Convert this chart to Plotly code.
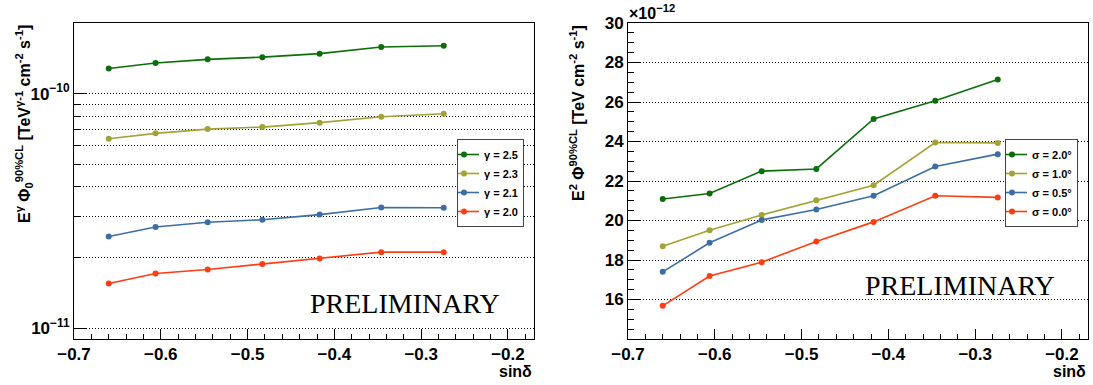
import plotly.graph_objects as go

# ---------------- data ----------------
sin_dec = [-0.660, -0.606, -0.546, -0.483, -0.417, -0.346, -0.274]

gamma_labels = ["γ = 2.5", "γ = 2.3", "γ = 2.1", "γ = 2.0"]
flux_g25 = [1.28e-10, 1.35e-10, 1.40e-10, 1.43e-10, 1.48e-10, 1.58e-10, 1.60e-10]
flux_g23 = [6.42e-11, 6.77e-11, 7.06e-11, 7.20e-11, 7.52e-11, 7.97e-11, 8.21e-11]
flux_g21 = [2.46e-11, 2.70e-11, 2.83e-11, 2.90e-11, 3.05e-11, 3.27e-11, 3.26e-11]
flux_g20 = [1.55e-11, 1.71e-11, 1.78e-11, 1.88e-11, 1.98e-11, 2.11e-11, 2.11e-11]

sigma_labels = ["σ = 2.0°", "σ = 1.0°", "σ = 0.5°", "σ = 0.0°"]
# E^2 flux in units of 1e-12 TeV cm^-2 s^-1
e2flux_s20 = [21.09, 21.37, 22.50, 22.61, 25.14, 26.06, 27.14]
e2flux_s10 = [18.70, 19.51, 20.28, 21.03, 21.79, 23.95, 23.93]
e2flux_s05 = [17.40, 18.87, 20.03, 20.56, 21.25, 22.73, 23.36]
e2flux_s00 = [15.68, 17.19, 17.89, 18.94, 19.93, 21.25, 21.17]

left_major_vals = [1e-11, 1e-10]
left_major_text = ["10<sup>−11</sup>", "10<sup>−10</sup>"]
left_minor_vals = [2e-11, 3e-11, 4e-11, 5e-11, 6e-11, 7e-11, 8e-11, 9e-11]
right_tick_vals = [16, 18, 20, 22, 24, 26, 28, 30]

colors = ["#0b6e0b", "#a3a335", "#3c6ea6", "#ff3d12"]

# ---------------- geometry helpers ----------------
W, H = 1093, 385
def px(x):
    return x / W
def py(y):
    return 1 - y / H

FONT = "Liberation Sans"
DOT = "1px,2px"

fig = go.Figure()

left_series = [flux_g25, flux_g23, flux_g21, flux_g20]
for lab, vals, c in zip(gamma_labels, left_series, colors):
    fig.add_trace(go.Scatter(
        x=sin_dec, y=vals, name=lab, mode="lines+markers",
        line=dict(color=c, width=1.6), marker=dict(color=c, size=6),
        xaxis="x", yaxis="y", legend="legend"))

right_series = [e2flux_s20, e2flux_s10, e2flux_s05, e2flux_s00]
for lab, vals, c in zip(sigma_labels, right_series, colors):
    fig.add_trace(go.Scatter(
        x=sin_dec, y=vals, name=lab, mode="lines+markers",
        line=dict(color=c, width=1.6), marker=dict(color=c, size=6),
        xaxis="x2", yaxis="y2", legend="legend2"))

tickfont = dict(family=FONT, size=17, color="black", weight="bold")

xcommon = dict(
    range=[-0.7, -0.17], tickmode="linear", tick0=-0.7, dtick=0.1,
    tickformat=".1f", ticks="inside", ticklen=10, tickcolor="black",
    showline=True, linecolor="black", linewidth=1, mirror=True,
    showgrid=False, zeroline=False, tickfont=tickfont, automargin=False,
    minor=dict(tick0=-0.7, dtick=0.02, ticks="inside", ticklen=5,
               tickcolor="black", showgrid=False),
)

legfont = dict(family=FONT, size=11, color="black", weight="bold")

fig.update_layout(
    template="none",
    width=W, height=H, autosize=False,
    margin=dict(l=0, r=0, t=0, b=0, pad=0, autoexpand=False),
    paper_bgcolor="white", plot_bgcolor="white",
    showlegend=True,
    xaxis=dict(domain=[px(74), px(534)], anchor="y", **xcommon),
    xaxis2=dict(domain=[px(628), px(1088)], anchor="y2", **xcommon),
    yaxis=dict(
        domain=[py(339), py(23)], anchor="x", type="log",
        range=[-11.046, -9.699], automargin=False,
        tickmode="array", tickvals=left_major_vals, ticktext=left_major_text,
        ticks="inside", ticklen=13, tickcolor="black",
        showline=True, linecolor="black", linewidth=1, mirror=True,
        showgrid=True, gridcolor="black", gridwidth=1, griddash=DOT,
        zeroline=False, tickfont=tickfont,
        minor=dict(tickmode="array", tickvals=left_minor_vals, ticks="inside",
                   ticklen=7, tickcolor="black", showgrid=True,
                   gridcolor="black", gridwidth=1, griddash=DOT),
    ),
    yaxis2=dict(
        domain=[py(339), py(23)], anchor="x2",
        range=[14, 30], automargin=False,
        tickmode="array", tickvals=right_tick_vals,
        ticks="inside", ticklen=12, tickcolor="black",
        showline=True, linecolor="black", linewidth=1, mirror=True,
        showgrid=True, gridcolor="black", gridwidth=1, griddash=DOT,
        zeroline=False, tickfont=tickfont,
        minor=dict(tick0=14, dtick=0.5, ticks="inside", ticklen=6,
                   tickcolor="black", showgrid=False),
    ),
    legend=dict(
        x=px(524), y=py(139), xanchor="right", yanchor="top",
        bgcolor="white", bordercolor="#444444", borderwidth=1,
        font=legfont, tracegroupgap=0, itemwidth=30, indentation=-14,
    ),
    legend2=dict(
        x=px(1078), y=py(139), xanchor="right", yanchor="top",
        bgcolor="white", bordercolor="#444444", borderwidth=1,
        font=legfont, tracegroupgap=0, itemwidth=30, indentation=-14,
    ),
)

titlefont = dict(family=FONT, size=16, color="black", weight="bold")
annotations = [
    dict(text="E<sup>γ</sup> Φ<sub>0</sub><sup>90%CL</sup> [TeV<sup>γ-1</sup> cm<sup>-2</sup> s<sup>-1</sup>]",
         x=px(24), y=py(23), xref="paper", yref="paper",
         xanchor="center", yanchor="top", textangle=-90,
         showarrow=False, font=titlefont),
    dict(text="E<sup>2</sup> Φ<sup>90%CL</sup> [TeV cm<sup>-2</sup> s<sup>-1</sup>]",
         x=px(577), y=py(23), xref="paper", yref="paper",
         xanchor="center", yanchor="top", textangle=-90,
         showarrow=False, font=titlefont),
    dict(text="sinδ", x=px(534), y=py(371), xref="paper", yref="paper",
         xanchor="right", yanchor="middle", showarrow=False, font=titlefont),
    dict(text="sinδ", x=px(1088), y=py(371), xref="paper", yref="paper",
         xanchor="right", yanchor="middle", showarrow=False, font=titlefont),
    dict(text="×10<sup>−12</sup>", x=px(627), y=py(12), xref="paper", yref="paper",
         xanchor="left", yanchor="middle", showarrow=False, font=titlefont),
    dict(text="PRELIMINARY", x=px(405), y=py(303), xref="paper", yref="paper",
         xanchor="center", yanchor="middle", showarrow=False,
         font=dict(family="Liberation Serif", size=28, color="black")),
    dict(text="PRELIMINARY", x=px(960), y=py(285), xref="paper", yref="paper",
         xanchor="center", yanchor="middle", showarrow=False,
         font=dict(family="Liberation Serif", size=28, color="black")),
]
fig.update_layout(annotations=annotations)

fig.write_html(
    "out.html",
    config={"displayModeBar": False},
    post_script="document.body.style.margin='0';document.body.style.overflow='hidden';",
)
